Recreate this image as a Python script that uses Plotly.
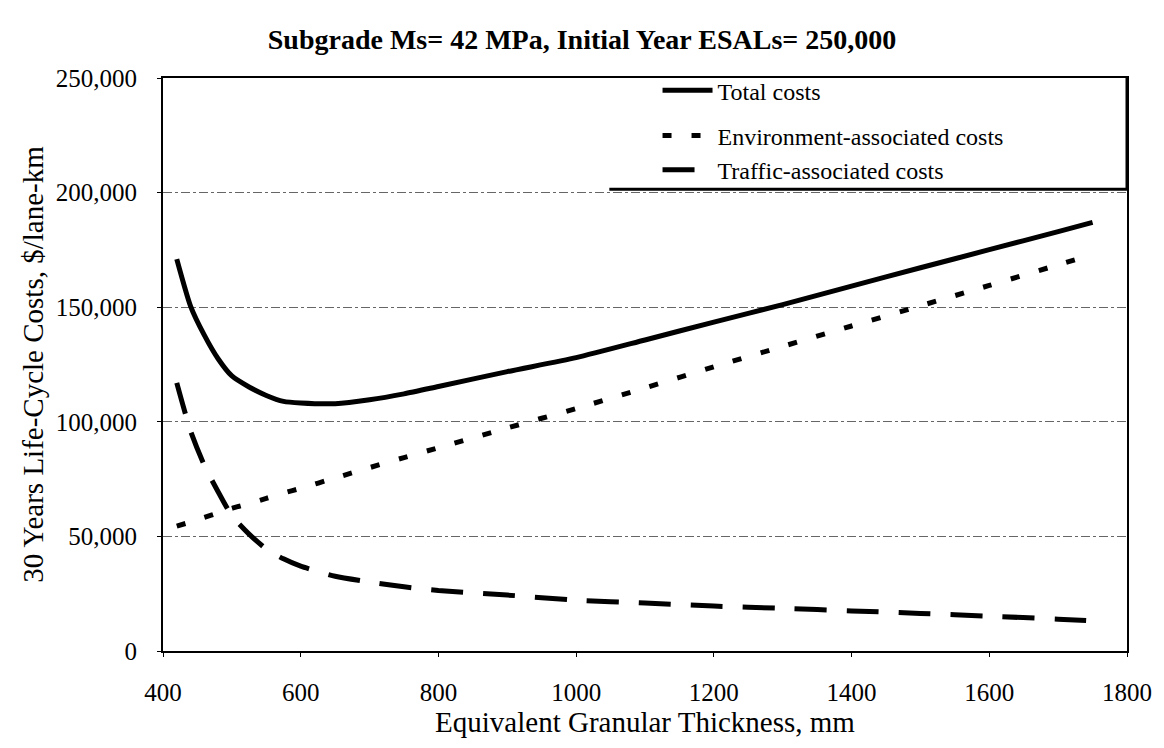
import plotly.graph_objects as go

thickness_mm = [420, 440, 460, 480, 500, 525, 550, 575, 600, 650, 700, 750, 800,
                900, 1000, 1100, 1200, 1300, 1400, 1500, 1600, 1700, 1750]

total_costs = [171000, 150500, 137800, 127500, 120000, 115200, 111500, 108900, 108200,
               107900, 109600, 112200, 115400, 121900, 128000, 135700, 143500, 151100,
               159200, 167200, 175100, 183000, 187000]

environment_costs = [54500, 56300, 58300, 60200, 62200, 64300, 66600, 68900, 71000,
                     75500, 80000, 84400, 88700, 97300, 105800, 114800, 124000, 132900,
                     141800, 150600, 159500, 168500, 173000]

traffic_costs = [117000, 96000, 81000, 69500, 59000, 51000, 44500, 40200, 37000,
                 32600, 30100, 28000, 26400, 24400, 22200, 20900, 19600, 18600,
                 17500, 16400, 15200, 13900, 13100]

series_names = ["Total costs", "Environment-associated costs", "Traffic-associated costs"]
x_ticks = [400, 600, 800, 1000, 1200, 1400, 1600, 1800]
y_ticks = [0, 50000, 100000, 150000, 200000, 250000]

title_text = "Subgrade Ms= 42 MPa, Initial Year ESALs= 250,000"
x_title = "Equivalent Granular Thickness, mm"
y_title = "30 Years Life-Cycle Costs, $/lane-km"

FONT = "Liberation Serif, Times New Roman, serif"

fig = go.Figure()
fig.add_trace(go.Scatter(x=thickness_mm, y=total_costs, mode="lines", name=series_names[0],
                         line=dict(color="black", width=5, shape="spline", smoothing=0.6),
                         legendgroup="a"))
fig.add_trace(go.Scatter(x=thickness_mm, y=environment_costs, mode="lines", name=series_names[1],
                         line=dict(color="black", width=5, dash="9px,20px", shape="spline", smoothing=0.6),
                         legendgroup="b"))
fig.add_trace(go.Scatter(x=thickness_mm, y=traffic_costs, mode="lines", name=series_names[2],
                         line=dict(color="black", width=5, dash="32px,20px", shape="spline", smoothing=0.6),
                         legendgroup="b"))

fig.update_layout(
    width=1164, height=748,
    margin=dict(l=163, r=31, t=78, b=97),
    paper_bgcolor="white", plot_bgcolor="white",
    font=dict(family=FONT, color="black", size=25),
    title=dict(text="<b>" + title_text + "</b>", x=0.5, xanchor="center",
               y=0.947, yanchor="middle", font=dict(family=FONT, size=28, color="black")),
    showlegend=True,
    legend=dict(x=0.513, xanchor="left", y=1.017, yanchor="top",
                bgcolor="rgba(0,0,0,0)", borderwidth=0,
                font=dict(family=FONT, size=24, color="black"),
                traceorder="grouped", tracegroupgap=11, itemwidth=50),
    shapes=[
        dict(type="line", xref="paper", yref="paper", x0=0.463, x1=1.0, y0=0.806, y1=0.806,
             line=dict(color="black", width=3)),
        dict(type="line", xref="paper", yref="paper", x0=1.0, x1=1.0, y0=0.806, y1=1.0,
             line=dict(color="black", width=3)),
    ],
)

fig.update_xaxes(
    range=[400, 1800], tickvals=x_ticks, ticktext=[str(v) for v in x_ticks],
    showline=True, linecolor="black", linewidth=2, mirror=True,
    ticks="outside", ticklen=4, tickcolor="black", tickwidth=1,
    showgrid=False, zeroline=False,
    tickfont=dict(family=FONT, size=25, color="black"),
    ticklabelstandoff=14, ticklabeloverflow="allow",
    title=dict(text=x_title, font=dict(family=FONT, size=29, color="black"), standoff=6),
)
fig.update_yaxes(
    range=[0, 250000], tickvals=y_ticks, tickformat=",d",
    showline=True, linecolor="black", linewidth=2, mirror=True,
    ticks="outside", ticklen=4, tickcolor="black", tickwidth=1,
    showgrid=True, gridcolor="#666666", gridwidth=1, griddash="dashdot",
    zeroline=False,
    tickfont=dict(family=FONT, size=25, color="black"),
    ticklabelstandoff=15,
    title=dict(text=y_title, font=dict(family=FONT, size=29, color="black"), standoff=4),
)

fig.write_html("out.html",
               config={"displayModeBar": False},
               post_script="document.body.style.margin='0';document.body.style.overflow='hidden';")
